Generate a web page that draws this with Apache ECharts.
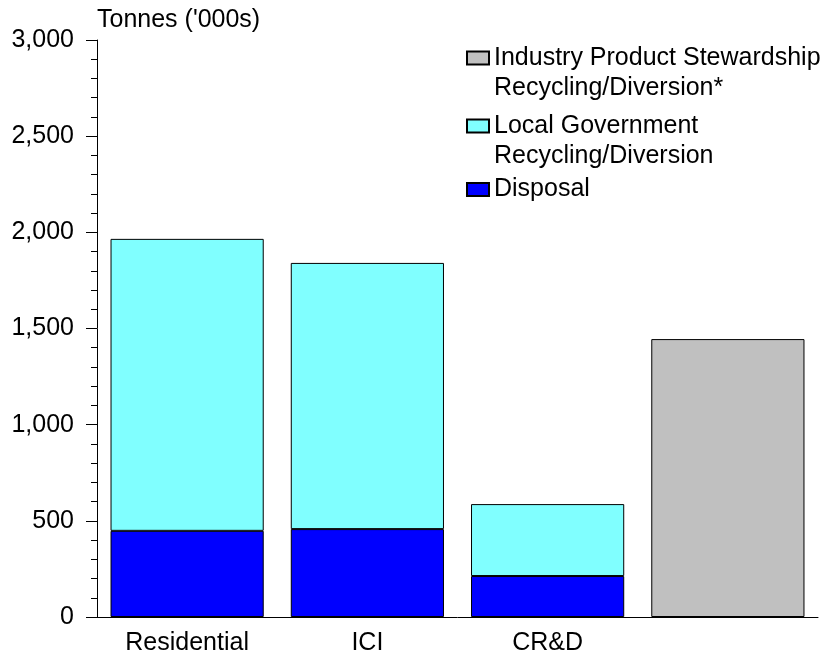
<!DOCTYPE html>
<html>
<head>
<meta charset="utf-8">
<script src="https://cdn.jsdelivr.net/npm/echarts@6/dist/echarts.min.js"></script>
<style>
html,body{margin:0;padding:0;background:#fff;}
#chart{width:822px;height:658px;}
</style>
</head>
<body>
<div id="chart"></div>
<script>
const categories = ['Residential', 'ICI', 'CR&D', ''];
const disposal = [448, 457, 213, null];
const localGov = [1518, 1384, 374, null];
const industry = [null, null, null, 1445];
const yTicks = [0, 500, 1000, 1500, 2000, 2500, 3000];

const seriesNames = {
  industry: 'Industry Product Stewardship\nRecycling/Diversion*',
  local: 'Local Government\nRecycling/Diversion',
  disposal: 'Disposal'
};

const FONT = '"Liberation Sans", Arial, sans-serif';
const chart = echarts.init(document.getElementById('chart'), null, {renderer: 'canvas'});

const legendBase = {
  orient: 'vertical',
  left: 466,
  padding: 0,
  itemWidth: 22,
  itemHeight: 13,
  icon: 'rect',
  selectedMode: false,
  textStyle: {fontFamily: FONT, fontSize: 25, color: '#000', lineHeight: 30}
};

chart.setOption({
  animation: false,
  backgroundColor: '#fff',
  title: {
    text: "Tonnes ('000s)",
    left: 97,
    top: 8,
    padding: 0,
    textStyle: {fontFamily: FONT, fontSize: 25, fontWeight: 'normal', color: '#000'}
  },
  legend: [
    Object.assign({}, legendBase, {
      top: 13,
      data: [seriesNames.industry],
      formatter: name => '\n' + name
    }),
    Object.assign({}, legendBase, {
      top: 81,
      data: [seriesNames.local],
      formatter: name => '\n' + name
    }),
    Object.assign({}, legendBase, {
      top: 174.5,
      data: [seriesNames.disposal]
    })
  ],
  grid: {left: 97, right: 4, top: 40, bottom: 41, containLabel: false},
  xAxis: {
    type: 'category',
    data: categories,
    axisLine: {lineStyle: {color: '#000', width: 1}},
    axisTick: {show: false},
    axisLabel: {fontFamily: FONT, fontSize: 25, color: '#000', margin: 14}
  },
  yAxis: {
    type: 'value',
    min: yTicks[0],
    max: yTicks[yTicks.length - 1],
    interval: yTicks[1] - yTicks[0],
    axisLine: {show: true, lineStyle: {color: '#000', width: 1}},
    axisTick: {show: true, length: 11, lineStyle: {color: '#000'}},
    minorTick: {show: true, splitNumber: 5, length: 6, lineStyle: {color: '#000'}},
    splitLine: {show: false},
    axisLabel: {
      fontFamily: FONT, fontSize: 25, color: '#000', margin: 23,
      formatter: v => v.toLocaleString('en-US')
    }
  },
  series: [
    {
      name: seriesNames.disposal, type: 'bar', stack: 'total', data: disposal,
      barCategoryGap: '15%',
      itemStyle: {color: '#0000FF', borderColor: '#000', borderWidth: 1}
    },
    {
      name: seriesNames.local, type: 'bar', stack: 'total', data: localGov,
      barCategoryGap: '15%',
      itemStyle: {color: '#80FFFF', borderColor: '#000', borderWidth: 1}
    },
    {
      name: seriesNames.industry, type: 'bar', stack: 'total', data: industry,
      barCategoryGap: '15%',
      itemStyle: {color: '#C0C0C0', borderColor: '#000', borderWidth: 1}
    }
  ]
});
</script>
</body>
</html>
